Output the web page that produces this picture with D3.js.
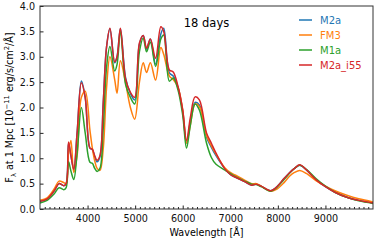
<!DOCTYPE html>
<html>
<head>
<meta charset="utf-8">
<script src="https://cdn.jsdelivr.net/npm/d3@7"></script>
<style>
body { margin: 0; background: #fff; }
svg text { font-family: "DejaVu Sans", sans-serif; }
</style>
</head>
<body>
<div id="chart"></div>
<script>
// wavelength grid [A] shared by all models
const wave = [3000, 3150, 3300, 3400, 3500, 3550, 3600, 3650, 3710, 3780, 3870, 3950, 4050, 4100, 4150, 4200, 4260, 4330, 4400, 4470, 4570, 4620, 4690, 4800, 4900, 4990, 5090, 5170, 5240, 5320, 5430, 5540, 5600, 5720, 5800, 5900, 6000, 6080, 6160, 6260, 6350, 6500, 6600, 6700, 6880, 7000, 7100, 7300, 7450, 7550, 7650, 7850, 7960, 8130, 8250, 8350, 8460, 8600, 8800, 9000, 9200, 9450, 9700, 10000];

const M2a = [0.15, 0.2, 0.36, 0.5, 0.46, 0.5, 1.3, 1.05, 0.78, 1.5, 2.52, 2.2, 1.2, 1.17, 1.03, 0.93, 1.03, 2.1, 3.2, 3.55, 2.88, 3.0, 3.55, 2.58, 2.28, 2.15, 3.25, 3.42, 3.15, 3.35, 2.85, 3.45, 3.56, 2.68, 2.62, 2.4, 1.92, 1.3, 1.72, 2.1, 2.05, 1.42, 1.22, 1.05, 0.8, 0.68, 0.63, 0.54, 0.47, 0.49, 0.45, 0.36, 0.42, 0.6, 0.72, 0.8, 0.86, 0.77, 0.58, 0.44, 0.33, 0.23, 0.17, 0.12];
const FM3 = [0.17, 0.22, 0.4, 0.55, 0.52, 0.5, 1.1, 1.35, 0.72, 1.05, 2.2, 2.32, 1.55, 1.2, 0.95, 0.8, 0.76, 1.2, 2.4, 3.0, 2.55, 2.28, 2.92, 2.48, 2.0, 1.77, 2.5, 2.88, 2.69, 2.88, 2.54, 3.18, 3.05, 2.62, 2.55, 2.4, 1.95, 1.3, 1.65, 2.07, 2.02, 1.45, 1.25, 1.08, 0.82, 0.72, 0.67, 0.57, 0.5, 0.5, 0.45, 0.35, 0.38, 0.52, 0.65, 0.72, 0.76, 0.7, 0.56, 0.45, 0.36, 0.27, 0.2, 0.14];
const M1a = [0.12, 0.17, 0.3, 0.42, 0.38, 0.42, 0.93, 0.75, 0.58, 1.1, 2.0, 1.5, 0.92, 0.9, 0.8, 0.74, 0.8, 1.6, 2.8, 3.2, 2.72, 2.85, 3.5, 2.45, 2.2, 2.07, 3.1, 3.37, 3.1, 3.29, 2.81, 3.35, 3.43, 2.52, 2.58, 2.35, 1.85, 1.2, 1.65, 2.07, 1.95, 1.3, 1.02, 0.88, 0.77, 0.7, 0.64, 0.55, 0.49, 0.48, 0.44, 0.35, 0.41, 0.58, 0.71, 0.8, 0.86, 0.78, 0.6, 0.45, 0.33, 0.23, 0.16, 0.11];
const M2a_i55 = [0.15, 0.2, 0.36, 0.5, 0.46, 0.5, 1.32, 1.05, 0.78, 1.5, 2.49, 2.2, 1.2, 1.18, 1.05, 0.96, 1.05, 2.1, 3.2, 3.56, 2.9, 3.0, 3.56, 2.56, 2.3, 2.2, 3.27, 3.42, 3.17, 3.35, 2.97, 3.59, 3.5, 2.74, 2.7, 2.42, 1.95, 1.35, 1.8, 2.21, 2.15, 1.5, 1.3, 1.1, 0.8, 0.68, 0.63, 0.54, 0.47, 0.49, 0.45, 0.36, 0.42, 0.6, 0.72, 0.8, 0.87, 0.77, 0.58, 0.44, 0.33, 0.23, 0.17, 0.12];

const seriesNames = ["M2a", "FM3", "M1a", "M2a_i55"];
const seriesValues = [M2a, FM3, M1a, M2a_i55];
const colors = ["#1f77b4", "#ff7f0e", "#2ca02c", "#d62728"];
const xTicks = [4000, 5000, 6000, 7000, 8000, 9000];
const yTicks = [0, 0.5, 1, 1.5, 2, 2.5, 3, 3.5, 4];
const title = "18 days";

const width = 374,
    height = 243,
    margin = {top: 6, right: 1, bottom: 34, left: 40},

    x = d3.scaleLinear().
        domain([3000, 10000]).
        range([margin.left, width - margin.right]),

    y = d3.scaleLinear().
        domain([0, 4]).
        range([height - margin.bottom, margin.top]),

    svg = d3.select("#chart").append("svg").
        attr("width", width).
        attr("height", height);

svg.append("clipPath").
    attr("id", "clip").
    append("rect").
    attr("x", margin.left).
    attr("y", margin.top).
    attr("width", x.range()[1] - margin.left).
    attr("height", y.range()[0] - margin.top);

// spectra
const line = d3.line().
    curve(d3.curveCatmullRom.alpha(0.5)).
    x((d) => x(d[0])).
    y((d) => y(d[1]));

svg.append("g").
    attr("clip-path", "url(#clip)").
    selectAll("path").
    data(seriesValues).
    enter().
    append("path").
    attr("fill", "none").
    attr("stroke", (d, i) => colors[i]).
    attr("stroke-width", 1.5).
    attr("stroke-linejoin", "round").
    attr("d", (vals) => line(wave.map((w, i) => [w, vals[i]])));

// axes, ticks pointing inward
const xAxis = svg.append("g").
    attr("transform", `translate(0,${y(0)})`).
    call(d3.axisBottom(x).tickValues(xTicks).tickSize(-3.5).tickPadding(6).tickFormat(d3.format("d")));

svg.append("g").
    attr("transform", `translate(0,${y(0)})`).
    call(d3.axisBottom(x).tickValues(d3.range(3100, 10000, 100).filter((v) => v % 1000 !== 0)).tickSize(-2).tickFormat("")).
    call((g) => g.select(".domain").remove());

const yAxis = svg.append("g").
    attr("transform", `translate(${margin.left},0)`).
    call(d3.axisLeft(y).tickValues(yTicks).tickSize(-3.5).tickPadding(5).tickFormat(d3.format(".1f")));

svg.selectAll(".tick line").attr("stroke", "#222");
svg.selectAll(".tick text").
    attr("font-size", 9.6).
    attr("fill", "#111");
svg.selectAll(".domain").remove();

// frame
svg.append("rect").
    attr("x", margin.left).
    attr("y", margin.top).
    attr("width", x.range()[1] - margin.left).
    attr("height", y(0) - margin.top).
    attr("fill", "none").
    attr("stroke", "#333").
    attr("stroke-width", 1);

// labels
svg.append("text").
    attr("x", (margin.left + x.range()[1]) / 2).
    attr("y", 236).
    attr("text-anchor", "middle").
    attr("font-size", 9.6).
    html("Wavelength [Å]");

const yl = svg.append("text").
    attr("transform", `translate(13,${(margin.top + y(0)) / 2}) rotate(-90)`).
    attr("text-anchor", "middle").
    attr("font-size", 9.6);
yl.append("tspan").text("F");
yl.append("tspan").attr("font-size", 6.8).attr("dy", 2.5).text("λ");
yl.append("tspan").attr("dy", -2.5).text(" at 1 Mpc [10");
yl.append("tspan").attr("font-size", 6.8).attr("dy", -4).text("−11");
yl.append("tspan").attr("dy", 4).text(" erg/s/cm");
yl.append("tspan").attr("font-size", 6.8).attr("dy", -4).text("2");
yl.append("tspan").attr("dy", 4).text("/Å]");

svg.append("text").
    attr("x", (margin.left + x.range()[1]) / 2).
    attr("y", 26.5).
    attr("text-anchor", "middle").
    attr("font-size", 11.5).
    text(title);

// legend
const legend = svg.append("g").
    selectAll("g").
    data(seriesNames).
    enter().
    append("g").
    attr("transform", (d, i) => `translate(299,${20 + i * 15})`);

legend.append("line").
    attr("x1", 0).
    attr("x2", 13).
    attr("stroke", (d, i) => colors[i]).
    attr("stroke-width", 1.5);

legend.append("text").
    attr("x", 21).
    attr("y", 3.6).
    attr("font-size", 10).
    attr("fill", (d, i) => colors[i]).
    text((d) => d);
</script>
</body>
</html>
